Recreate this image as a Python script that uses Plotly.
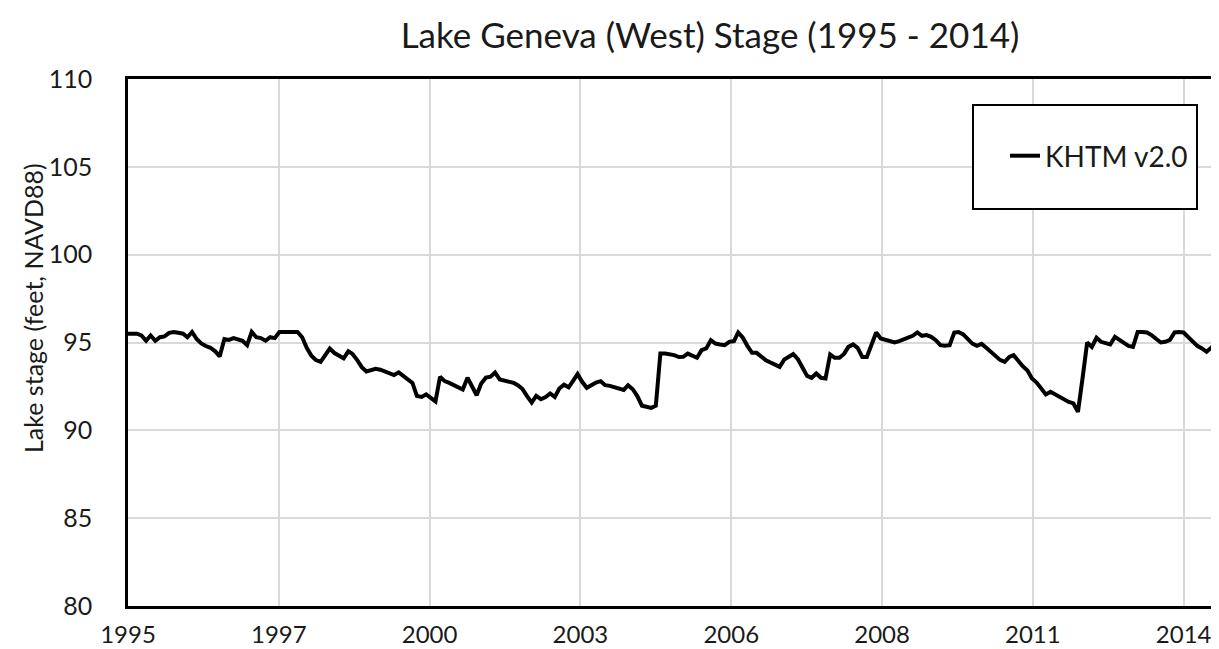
"""
Lake Geneva (West) stage, monthly KHTM v2.0 output, 1995 - 2014.
Excel-style date axis: one tick every 1000 days from the first month end.
"""

import pandas as pd
import plotly.graph_objects as go

# ---------------------------------------------------------------------------
# Data (feet NAVD88, one value per month end)
# ---------------------------------------------------------------------------
first_month = "1995-01-31"
last_month = "2014-12-31"
series_name = "KHTM v2.0"

stage_ft = [
    # 1995 - 1998
    95.5, 95.5, 95.5, 95.4, 95.1, 95.4, 95.1, 95.3, 95.35, 95.55,
    95.6, 95.55, 95.5, 95.3, 95.6, 95.2, 94.95, 94.8, 94.7, 94.5,
    94.2, 95.2, 95.15, 95.25, 95.2, 95.1, 94.85, 95.6, 95.3, 95.25,
    95.1, 95.3, 95.25, 95.6, 95.6, 95.6, 95.6, 95.6, 95.3, 94.7,
    94.25, 94.0, 93.9, 94.25, 94.65, 94.4, 94.25, 94.1, 94.5, 94.35,
    # 1999 - 2003
    94.0, 93.6, 93.35, 93.45, 93.5, 93.45, 93.35, 93.25, 93.15, 93.3,
    93.1, 92.95, 92.7, 91.95, 91.9, 92.05, 91.85, 91.65, 93.05, 92.8,
    92.7, 92.57, 92.48, 92.32, 93.0, 92.55, 92.0, 92.67, 93.0, 93.05,
    93.29, 92.9, 92.85, 92.8, 92.7, 92.57, 92.35, 91.95, 91.58, 91.96,
    91.77, 91.9, 92.1, 91.9, 92.38, 92.6, 92.45, 92.8, 93.2, 92.76,
    # 2003 - 2007
    92.42, 92.57, 92.72, 92.8, 92.57, 92.53, 92.46, 92.38, 92.3, 92.57,
    92.34, 91.95, 91.4, 91.34, 91.28, 91.4, 94.37, 94.37, 94.35, 94.28,
    94.17, 94.18, 94.37, 94.24, 94.13, 94.56, 94.66, 95.13, 94.94, 94.89,
    94.85, 95.04, 95.08, 95.57, 95.27, 94.81, 94.41, 94.41, 94.18, 93.99,
    93.86, 93.75, 93.61, 94.03, 94.18, 94.34, 94.05, 93.6, 93.1, 92.99,
    # 2007 - 2011
    93.24, 92.99, 92.95, 94.32, 94.13, 94.13, 94.35, 94.75, 94.89, 94.7,
    94.18, 94.18, 94.94, 95.57, 95.23, 95.17, 95.1, 95.0, 95.08, 95.17,
    95.32, 95.38, 95.57, 95.38, 95.42, 95.32, 95.13, 94.85, 94.81, 94.85,
    95.57, 95.6, 95.46, 95.19, 94.94, 94.81, 94.92, 94.7, 94.47, 94.18,
    94.01, 93.9, 94.18, 94.28, 93.94, 93.65, 93.4, 92.95, 92.72, 92.38,
    # 2011 - 2014
    92.04, 92.19, 92.04, 91.91, 91.76, 91.62, 91.53, 91.05, 93.0, 95.0,
    94.75, 95.27, 95.04, 94.94, 94.89, 95.32, 95.15, 95.0, 94.81, 94.75,
    95.6, 95.6, 95.57, 95.42, 95.19, 95.0, 95.04, 95.15, 95.57, 95.6,
    95.57, 95.32, 95.04, 94.81, 94.66, 94.47, 94.7, 94.51, 95.57, 95.6,
]

y_ticks = [80, 85, 90, 95, 100, 105, 110]
x_tick_step_days = 1000
x_tick_count = 8

# ---------------------------------------------------------------------------
# Build
# ---------------------------------------------------------------------------
months = pd.date_range(first_month, periods=len(stage_ft), freq="ME")
x_ticks = [pd.Timestamp(first_month) + pd.Timedelta(days=x_tick_step_days * k)
           for k in range(x_tick_count)]

FONT = "Lato, 'Open Sans', sans-serif"
TEXT = "#1a1a1a"
GRID = "#d9d9d9"

fig = go.Figure()
fig.add_trace(go.Scatter(
    x=months, y=stage_ft, mode="lines", name=series_name,
    line=dict(color="black", width=4),
))

fig.update_layout(
    width=1219, height=649,
    paper_bgcolor="white", plot_bgcolor="white",
    margin=dict(l=120, r=2, t=71, b=51, autoexpand=False),
    font=dict(family=FONT, color=TEXT, size=25),
    title=dict(
        text="Lake Geneva (West) Stage (1995 - 2014)",
        xref="container", yref="container",
        x=702 / 1219, y=1 - 28 / 649,
        xanchor="center", yanchor="middle",
        font=dict(family=FONT, size=35, color=TEXT),
    ),
    showlegend=True,
    legend=dict(
        x=(997 - 120) / 1097, y=(598 - 148) / 527,
        xanchor="left", yanchor="middle",
        bgcolor="rgba(0,0,0,0)", borderwidth=0,
        font=dict(family=FONT, size=28, color=TEXT),
    ),
)

fig.update_xaxes(
    type="date", automargin=False,
    range=[first_month, last_month],
    tickmode="array", tickvals=x_ticks, tickformat="%Y",
    showgrid=True, gridcolor=GRID, gridwidth=2,
    showline=True, linecolor="black", linewidth=2.5, mirror=True,
    ticks="", ticklabelstandoff=5,
    tickfont=dict(family=FONT, size=24, color=TEXT),
)
fig.update_yaxes(
    automargin=False,
    range=[80, 110],
    tickmode="array", tickvals=y_ticks,
    showgrid=True, gridcolor=GRID, gridwidth=2,
    showline=True, linecolor="black", linewidth=2.5, mirror=True,
    zeroline=False,
    ticks="", ticklabelstandoff=28,
    tickfont=dict(family=FONT, size=25, color=TEXT),
)

# y-axis title sits a bit above the plot centre in the original
fig.add_annotation(
    text="Lake stage (feet, NAVD88)",
    xref="paper", yref="paper",
    x=(25 - 120) / 1097, y=(598 - 300) / 527,
    xanchor="center", yanchor="middle",
    textangle=-90, showarrow=False,
    font=dict(family=FONT, size=25, color=TEXT),
)

# legend frame (white box hiding the grid, like the Excel legend)
fig.add_shape(
    type="rect", xref="paper", yref="paper",
    x0=(965 - 120) / 1097, x1=(1189 - 120) / 1097,
    y0=(598 - 201) / 527, y1=(598 - 97) / 527,
    line=dict(color="black", width=2), fillcolor="white", layer="above",
)

fig.write_html("out.html")
